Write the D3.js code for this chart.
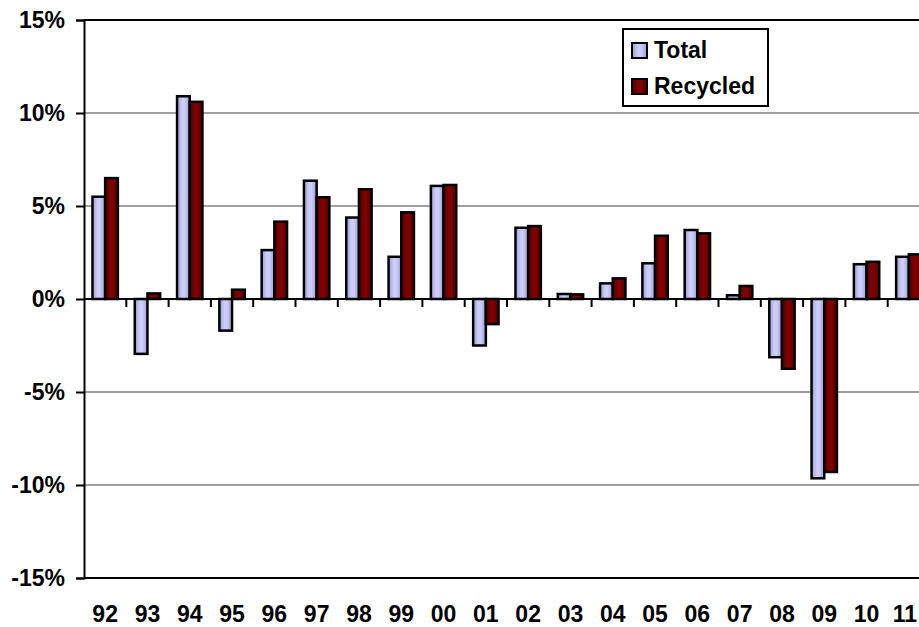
<!DOCTYPE html>
<html>
<head>
<meta charset="utf-8">
<script src="https://cdn.jsdelivr.net/npm/d3@7"></script>
<style>
  html, body { margin: 0; padding: 0; background: #fff; overflow: hidden; }
  svg { display: block; font-family: "Liberation Sans", Arial, sans-serif; font-weight: bold; }
</style>
</head>
<body>
<svg id="chart" width="919" height="627"></svg>
<script>
const years = ["92","93","94","95","96","97","98","99","00","01","02","03","04","05","06","07","08","09","10","11"];
const seriesNames = ["Total", "Recycled"];
const totalValues = [5.5, -2.95, 10.9, -1.7, 2.63, 6.36, 4.38, 2.27, 6.08, -2.5, 3.83, 0.27, 0.84, 1.92, 3.71, 0.2, -3.13, -9.64, 1.87, 2.27];
const recycledValues = [6.5, 0.3, 10.6, 0.5, 4.16, 5.47, 5.9, 4.66, 6.13, -1.35, 3.92, 0.25, 1.11, 3.4, 3.53, 0.7, -3.75, -9.3, 2.0, 2.4];
const yTicks = [-15, -10, -5, 0, 5, 10, 15];

const W = 919;
const svg = d3.select("#chart");
const plotL = 84, plotT = 20, plotB = 578, plotR = 930;

const x = d3.scaleBand().domain(years).range([plotL, plotR]).padding(0);
const step = x.step();
const x1 = d3.scaleBand().domain(seriesNames).range([step * 0.2, step * 0.8]).padding(0);
const y = d3.scaleLinear().domain([-15, 15]).range([plotB, plotT]);

const defs = svg.append("defs");
function grad(id, edge, mid) {
  const g = defs.append("linearGradient").attr("id", id).attr("x1", "0%").attr("x2", "100%").attr("y1", "0%").attr("y2", "0%");
  g.append("stop").attr("offset", "0%").attr("stop-color", edge);
  g.append("stop").attr("offset", "40%").attr("stop-color", mid);
  g.append("stop").attr("offset", "60%").attr("stop-color", mid);
  g.append("stop").attr("offset", "100%").attr("stop-color", edge);
}
grad("gTotal", "#9a9ad2", "#cdcdfa");
grad("gRec", "#4c0000", "#800000");
const fills = { "Total": "url(#gTotal)", "Recycled": "url(#gRec)" };

// gridlines
svg.append("g").selectAll("line").data(yTicks.filter(t => t !== 0 && Math.abs(t) !== 15)).join("line")
  .attr("x1", plotL).attr("x2", plotR).attr("y1", d => y(d)).attr("y2", d => y(d))
  .attr("stroke", "#a0a0a0").attr("stroke-width", 2);

// frame top & bottom
svg.append("line").attr("x1", plotL).attr("x2", plotR).attr("y1", y(15)).attr("y2", y(15)).attr("stroke", "#000").attr("stroke-width", 2);
svg.append("line").attr("x1", plotL).attr("x2", plotR).attr("y1", y(-15)).attr("y2", y(-15)).attr("stroke", "#000").attr("stroke-width", 2);

// y axis
const yAxis = d3.axisLeft(y).tickValues(yTicks).tickFormat(d => d + "%").tickSize(8).tickPadding(11);
const gy = svg.append("g").attr("transform", `translate(${plotL},0)`).call(yAxis);
gy.select(".domain").attr("stroke", "#000").attr("stroke-width", 2);
gy.selectAll(".tick line").attr("stroke", "#000").attr("stroke-width", 2);
gy.selectAll(".tick text").attr("font-size", 23).attr("font-weight", "bold").attr("fill", "#000")
  .attr("font-family", "'Liberation Sans', Arial, sans-serif");

// bars
const data = years.map((yr, i) => ({ yr, vals: [
  { key: "Total", v: totalValues[i] },
  { key: "Recycled", v: recycledValues[i] }
]}));
svg.append("g").selectAll("g").data(data).join("g")
  .attr("transform", d => `translate(${x(d.yr)},0)`)
  .selectAll("rect").data(d => d.vals).join("rect")
  .attr("x", d => x1(d.key))
  .attr("width", x1.bandwidth())
  .attr("y", d => y(Math.max(0, d.v)))
  .attr("height", d => Math.abs(y(d.v) - y(0)))
  .attr("fill", d => fills[d.key])
  .attr("stroke", "#000").attr("stroke-width", 2.5);

// zero axis with downward ticks at category boundaries
svg.append("line").attr("x1", plotL).attr("x2", plotR).attr("y1", y(0)).attr("y2", y(0)).attr("stroke", "#000").attr("stroke-width", 2);
svg.append("g").selectAll("line").data(years.slice(1)).join("line")
  .attr("x1", d => x(d)).attr("x2", d => x(d))
  .attr("y1", y(0)).attr("y2", y(0) + 8)
  .attr("stroke", "#000").attr("stroke-width", 2);

// x labels (kept inside the visible width)
svg.append("g").selectAll("text").data(years).join("text")
  .attr("x", d => x(d) + step / 2).attr("y", 622)
  .attr("text-anchor", "middle").attr("font-size", 23).attr("fill", "#000")
  .text(d => d)
  .each(function(d) {
    const half = this.getComputedTextLength() / 2;
    const cx = x(d) + step / 2;
    if (cx + half > W - 2) d3.select(this).attr("x", W - 2 - half);
  });

// legend
const lg = svg.append("g");
lg.append("rect").attr("x", 623).attr("y", 29).attr("width", 145).attr("height", 77)
  .attr("fill", "#fff").attr("stroke", "#000").attr("stroke-width", 2);
const legendRows = lg.selectAll("g").data(seriesNames).join("g")
  .attr("transform", (d, i) => `translate(632, ${43 + i * 36})`);
legendRows.append("rect").attr("width", 15).attr("height", 15)
  .attr("fill", d => fills[d]).attr("stroke", "#000").attr("stroke-width", 2);
legendRows.append("text").attr("x", 22).attr("y", 15).attr("font-size", 23).attr("fill", "#000").text(d => d);
</script>
</body>
</html>
